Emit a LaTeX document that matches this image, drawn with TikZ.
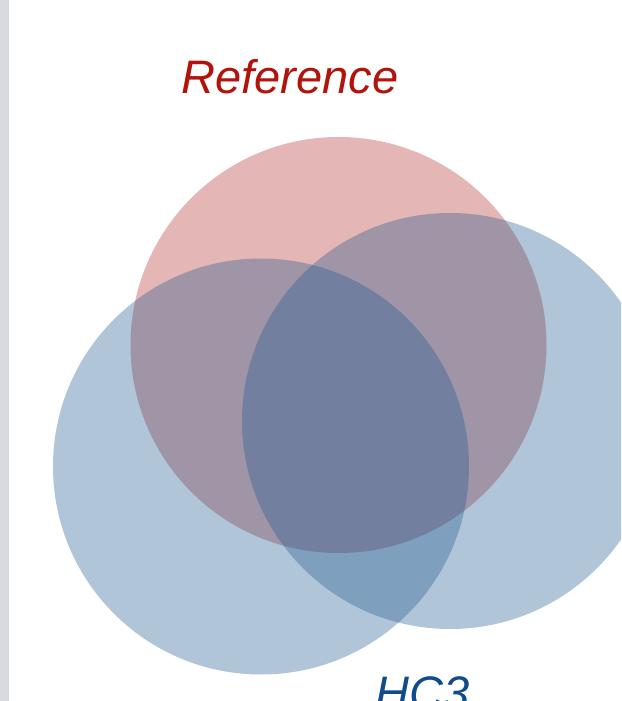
\documentclass[tikz,border=0pt]{standalone}
\usepackage{fontspec}
\setmainfont{Liberation Sans}
\definecolor{refred}{RGB}{178,44,41}
\definecolor{hcblue}{RGB}{30,87,142}
\definecolor{reftext}{RGB}{176,20,12}
\definecolor{hctext}{RGB}{16,76,138}
\definecolor{strip}{RGB}{216,218,221}
\begin{document}
\begin{tikzpicture}[x=1pt,y=-1pt,
  vcircle/.style={fill opacity=0.346,draw=none},
  lbl/.style={font=\fontsize{47}{50}\selectfont\itshape,inner sep=0pt}]
\useasboundingbox (0,0) rectangle (621,701);
\clip (0,0) rectangle (621,701);
\fill[white] (0,0) rectangle (621,701);
\fill[strip] (0,0) rectangle (9,701);
\fill[refred,vcircle] (338.5,345) circle[radius=208];
\fill[hcblue,vcircle] (261,466.5) circle[radius=208];
\fill[hcblue,vcircle] (450,421) circle[radius=208];
\node[lbl,text=reftext,anchor=base] (ref) at (290,93) {Reference};
\node[lbl,text=hctext,anchor=base west] (hc3) at (375,709) {HC3};
\end{tikzpicture}
\end{document}
